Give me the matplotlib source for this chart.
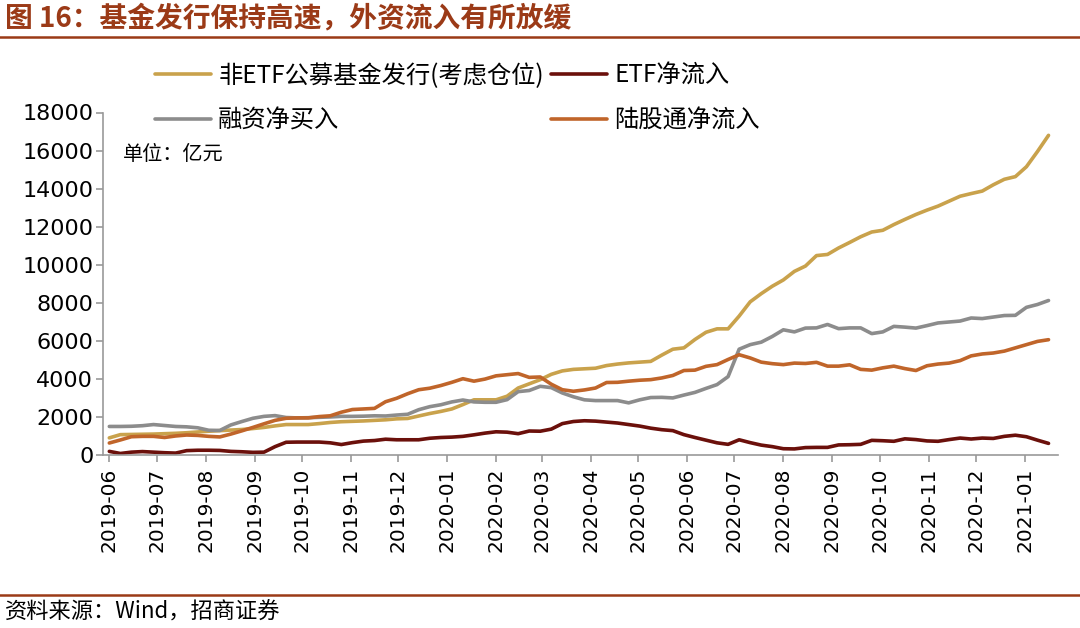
import numpy as np
import pandas as pd
import matplotlib
matplotlib.use("Agg")
import matplotlib.pyplot as plt
import matplotlib.dates as mdates
from matplotlib.lines import Line2D

plt.rcParams['font.family'] = ['Noto Sans CJK SC', 'DejaVu Sans']

# weekly observations, 亿元
dates = pd.date_range('2019-06-07', periods=86, freq='7D')

fund_issue = [900, 1070, 1080, 1090, 1100, 1120, 1140, 1170, 1210, 1250,
              1280, 1310, 1340, 1390, 1450, 1530, 1600, 1600, 1600, 1650,
              1710, 1750, 1770, 1790, 1820, 1850, 1900, 1920, 2050, 2180,
              2290, 2420, 2650, 2900, 2900, 2900, 3090, 3520, 3740, 3960,
              4240, 4420, 4500, 4530, 4560, 4700, 4780, 4840, 4880, 4920,
              5250, 5560, 5630, 6070, 6450, 6630, 6630, 7300, 8050, 8480,
              8870, 9200, 9650, 9930, 10480, 10540, 10880, 11170, 11470, 11720,
              11810, 12110, 12380, 12640, 12870, 13080, 13340, 13600, 13740, 13870,
              14200, 14490, 14630, 15150, 15950, 16800]

etf_flow = [190, 80, 150, 180, 150, 120, 100, 230, 250, 250,
            240, 190, 170, 140, 150, 440, 670, 680, 680, 680,
            640, 550, 650, 730, 760, 830, 800, 800, 800, 880,
            920, 940, 980, 1060, 1150, 1220, 1200, 1120, 1260, 1250,
            1360, 1650, 1760, 1800, 1780, 1730, 1680, 1600, 1520, 1410,
            1330, 1280, 1070, 920, 780, 640, 560, 800, 650, 520,
            440, 330, 320, 390, 400, 400, 530, 540, 560, 770,
            750, 720, 850, 810, 740, 720, 810, 890, 840, 890,
            870, 980, 1040, 960, 780, 610]

margin_buy = [1500, 1500, 1510, 1540, 1600, 1550, 1500, 1480, 1430, 1300,
              1290, 1580, 1760, 1930, 2030, 2070, 1970, 1950, 1960, 1980,
              2000, 2030, 2030, 2040, 2060, 2050, 2100, 2140, 2380, 2540,
              2640, 2790, 2890, 2790, 2770, 2770, 2910, 3330, 3390, 3610,
              3540, 3260, 3060, 2900, 2860, 2860, 2860, 2740, 2900, 3020,
              3030, 3000, 3150, 3290, 3500, 3700, 4120, 5560, 5800, 5930,
              6230, 6580, 6470, 6670, 6680, 6860, 6640, 6680, 6680, 6380,
              6470, 6760, 6720, 6670, 6800, 6940, 6990, 7040, 7200, 7170,
              7250, 7330, 7340, 7760, 7910, 8120]

northbound = [630, 790, 960, 980, 980, 920, 1000, 1050, 1030, 980,
              950, 1100, 1270, 1450, 1640, 1820, 1930, 1950, 1950, 2020,
              2060, 2250, 2390, 2420, 2450, 2800, 2980, 3220, 3430, 3510,
              3650, 3820, 4010, 3880, 3990, 4160, 4220, 4280, 4080, 4100,
              3720, 3430, 3350, 3420, 3520, 3810, 3820, 3880, 3930, 3960,
              4050, 4180, 4440, 4460, 4660, 4750, 5020, 5270, 5100, 4880,
              4800, 4750, 4830, 4810, 4870, 4670, 4670, 4740, 4500, 4460,
              4580, 4670, 4540, 4440, 4690, 4780, 4830, 4960, 5210, 5310,
              5360, 5460, 5630, 5800, 5970, 6060]

labels = ['非ETF公募基金发行(考虑仓位)', 'ETF净流入', '融资净买入', '陆股通净流入']
colors = ['#c9a24c', '#6b100b', '#8c8c8c', '#c0652a']

tick_dates = [pd.Timestamp('2019-06-07') + pd.DateOffset(months=i) for i in range(20)]
tick_labels = [d.strftime('%Y-%m') for d in tick_dates]
y_ticks = list(range(0, 18001, 2000))

dark_red = '#9b3a17'
axis_gray = '#999999'

fig = plt.figure(figsize=(10.8, 6.28), dpi=100)
ax = fig.add_axes([103 / 1080, 1 - 455 / 628, 955 / 1080, 342.5 / 628])

series = [fund_issue, etf_flow, margin_buy, northbound]
lines = []
for vals, lab, col in zip(series, labels, colors):
    ln, = ax.plot(dates, vals, color=col, lw=2.6, label=lab, solid_capstyle='round')
    lines.append(ln)

ax.set_xlim(dates[0] - pd.Timedelta(days=4), dates[-1] + pd.Timedelta(days=6))
ax.set_ylim(0, 18000)
ax.set_yticks(y_ticks)
ax.set_yticklabels([str(v) for v in y_ticks], family='DejaVu Sans', fontsize=16)
ax.set_xticks(tick_dates)
ax.set_xticklabels(tick_labels, rotation=90, family='DejaVu Sans', fontsize=14.5)

for s in ['top', 'right']:
    ax.spines[s].set_visible(False)
for s in ['left', 'bottom']:
    ax.spines[s].set_color(axis_gray)
    ax.spines[s].set_linewidth(1.2)
ax.tick_params(axis='both', colors=axis_gray, labelcolor='black', length=5, width=1.2)
ax.tick_params(axis='y', pad=2)
ax.tick_params(axis='x', pad=4)

# legend: column 1 -> fund / margin, column 2 -> etf / northbound
order = [0, 2, 1, 3]
fig.legend([lines[i] for i in order], [labels[i] for i in order], ncol=2,
           loc='upper left', bbox_to_anchor=(155 / 1080, 1 - 63 / 628),
           frameon=False, fontsize=17.5, handlelength=2.3, handletextpad=0.3,
           columnspacing=0.3, labelspacing=0.75, borderaxespad=0, borderpad=0)

ax.text(123 / 1080, 1 - 155 / 628, '单位：亿元', transform=fig.transFigure,
        fontsize=14.5, va='center', ha='left')

# header and footer
fig.text(5 / 1080, 1 - 18 / 628, '图 16：基金发行保持高速，外资流入有所放缓',
         color=dark_red, fontsize=20, fontweight='bold', va='center', ha='left')
fig.add_artist(Line2D([0, 1], [1 - 37 / 628, 1 - 37 / 628], color=dark_red, lw=1.8))
fig.add_artist(Line2D([0, 1], [1 - 595 / 628, 1 - 595 / 628], color=dark_red, lw=1.8))
fig.text(5 / 1080, 1 - 612 / 628, '资料来源：Wind，招商证券', fontsize=16,
         va='center', ha='left')

fig.savefig('out.png', dpi=100)
